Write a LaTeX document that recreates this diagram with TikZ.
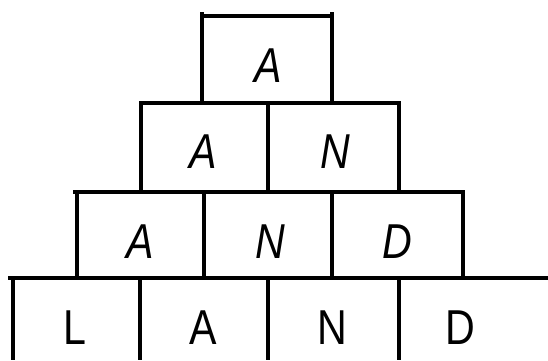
\documentclass[tikz,border=0pt]{standalone}
\usepackage{fontspec}
\setmainfont{Liberation Sans}

\begin{document}
\begin{tikzpicture}[x=1pt, y=-1pt, line width=3.2pt,
    every node/.style={font=\fontsize{49}{49}\selectfont, anchor=base, inner sep=0pt,
        transform shape, xscale=0.84},
    tilted/.style={font=\fontsize{49}{49}\selectfont\itshape}]
    \useasboundingbox (0,0) rectangle (548,360);

    % Spitze
    \draw (202,12) -- (202,103);
    \draw (332,12) -- (332,103);
    \draw (200,16) -- (334,16);
    \node[tilted] (t1) at (268,82) {A};

    % zweite Reihe
    \draw (139,103) -- (401,103);
    \foreach \x in {141,268,399} {
        \draw (\x,103) -- (\x,192);
    }
    \node[tilted] (a2) at (203,168) {A};
    \node[tilted] (n2) at (335,168) {N};

    % dritte Reihe
    \draw (73,192) -- (465,192);
    \foreach \x in {77,204,332,463} {
        \draw (\x,192) -- (\x,278);
    }
    \node[tilted] (a3) at (140,258) {A};
    \node[tilted] (n3) at (270,258) {N};
    \node[tilted] (d3) at (397,258) {D};

    % Grundreihe
    \draw (8,278) -- (548,278);
    \foreach \x in {13,140,268,399} {
        \draw (\x,278) -- (\x,360);
    }
    \node (l4) at (75,344) {L};
    \node (a4) at (203,344) {A};
    \node (n4) at (332,344) {N};
    \node (d4) at (460,344) {D};
\end{tikzpicture}
\end{document}
